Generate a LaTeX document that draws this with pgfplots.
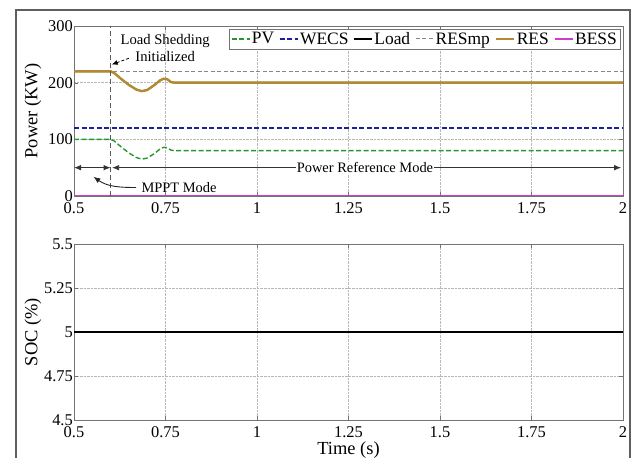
\documentclass[border=0pt]{standalone}
\usepackage{fontspec}
\setmainfont{Liberation Serif}
\usepackage{pgfplots}
\pgfplotsset{compat=1.18}
\usetikzlibrary{arrows.meta}

\definecolor{pvgreen}{RGB}{40,150,45}
\definecolor{wecsblue}{RGB}{30,30,165}
\definecolor{resmpgray}{RGB}{135,135,135}
\definecolor{resgold}{RGB}{178,138,52}
\definecolor{bessmag}{RGB}{205,60,205}
\definecolor{framegray}{RGB}{95,95,95}

% PV and RES transients around the load shedding event at t = 0.6 s
\pgfplotstableread{
t     pv    res
0.50  100   220
0.60  100   220
0.61  97    217
0.63  86    206
0.65  76    196
0.67  68    188
0.685 65    185
0.70  67    187
0.72  75    196
0.735 83    204
0.745 86    207
0.755 85    206
0.765 81    201
0.775 80    200
2.00  80    200
}\transient

\tikzset{
  myarrow/.style={{Latex[length=7bp,width=5.5bp]}-{Latex[length=7bp,width=5.5bp]}, black!80, line width=0.8bp},
}

\pgfplotsset{
  panel/.style={
    scale only axis, width=549bp,
    xmin=0.5, xmax=2,
    xtick={0.5,0.75,1,1.25,1.5,1.75,2},
    xticklabels={0.5,0.75,1,1.25,1.5,1.75,2},
    grid=major,
    grid style={densely dotted, black!28, line width=0.6bp},
    axis line style={black!55, line width=0.9bp},
    tick style={black!55},
    tick align=inside,
    /pgf/number format/assume math mode=true,
    every tick label/.append style={font=\fontsize{16.5}{18}\selectfont},
    xticklabel style={inner sep=0.5bp, yshift=-6bp},
    yticklabel style={inner sep=1bp},
    label style={font=\fontsize{18.5}{20}\selectfont},
    ylabel style={at={(axis description cs:-0.0747,0.5)}, anchor=center},
    scaled ticks=false,
  },
}

\begin{document}
\begin{tikzpicture}
\useasboundingbox (0,0) rectangle (634bp,-458bp);
\draw[framegray, line width=1.2bp] (16bp,-490bp) -- (16bp,-10bp) -- (630bp,-10bp) -- (630bp,-490bp);

% ---------------- power panel ----------------
\begin{axis}[panel,
  at={(74bp,-196bp)}, anchor=south west, height=170bp,
  ymin=0, ymax=300, ytick={0,100,200,300},
  yticklabels={0,100,200,300},
  ylabel={Power (KW)},
  legend columns=6,
  legend style={at={(rel axis cs:1,1)}, anchor=north east, xshift=-3bp, yshift=-3bp,
    draw=black!55, font=\fontsize{17.5}{19}\selectfont, inner sep=1.5bp,
    nodes={inner sep=1.5bp},
    /tikz/every even column/.append style={column sep=3.5bp}},
  legend image code/.code={\draw[#1] (0bp,0bp) -- (18bp,0bp);},
  legend cell align=left,
]
\addplot[pvgreen, line width=1.4bp, dash pattern=on 5bp off 2.5bp] table[x=t,y=pv] {\transient};
\addlegendentry{PV}
\addplot[wecsblue, line width=1.4bp, dash pattern=on 5bp off 2.5bp] coordinates {(0.5,120) (2,120)};
\addlegendentry{WECS}
\addplot[black, line width=1.4bp] table[x=t,y=res] {\transient};
\addlegendentry{Load}
\addplot[resmpgray, line width=1bp, dash pattern=on 4bp off 2.5bp] coordinates {(0.5,220) (2,220)};
\addlegendentry{RESmp}
\addplot[resgold, line width=2.4bp] table[x=t,y=res] {\transient};
\addlegendentry{RES}
\addplot[bessmag, line width=1.8bp] coordinates {(0.5,1) (2,1)};
\addlegendentry{BESS}

% load shedding instant
\addplot[forget plot, black!65, line width=0.8bp, dash pattern=on 5bp off 3bp] coordinates {(0.6,0) (0.6,300)};

% operating modes
\draw[myarrow] (axis cs:0.5,50) -- (axis cs:0.6,50);
\draw[myarrow] (axis cs:0.604,50) -- (axis cs:1.995,50);
\node[fill=white, inner sep=1bp, font=\fontsize{14.5}{16}\selectfont] at (axis cs:1.295,50) {Power Reference Mode};
\node[font=\fontsize{14.5}{16}\selectfont, inner sep=1bp] at (axis cs:0.787,15) {MPPT Mode};
\draw[-{Latex[length=7bp,width=5.5bp]}, black!85, line width=0.9bp] (axis cs:0.67,15) to[out=180, in=-35] (axis cs:0.553,34);

\node[align=center, font=\fontsize{14.7}{17}\selectfont] at (axis cs:0.749,262) {Load Shedding\\Initialized};
\draw[-{Latex[length=6bp,width=5bp]}, black, line width=0.8bp, dash pattern=on 3bp off 2bp] (axis cs:0.65,243) -- (axis cs:0.603,232);
\end{axis}

% ---------------- state of charge panel ----------------
\begin{axis}[panel,
  at={(74bp,-420bp)}, anchor=south west, height=176bp,
  ymin=4.5, ymax=5.5, ytick={4.5,4.75,5,5.25,5.5},
  yticklabels={4.5,4.75,5,5.25,5.5},
  ylabel={SOC (\%)}, xlabel={Time (s)},
  xlabel style={at={(axis description cs:0.5,-0.172)}, anchor=center},
]
\addplot[black, line width=1.8bp] coordinates {(0.5,5) (2,5)};
\end{axis}
\end{tikzpicture}
\end{document}
